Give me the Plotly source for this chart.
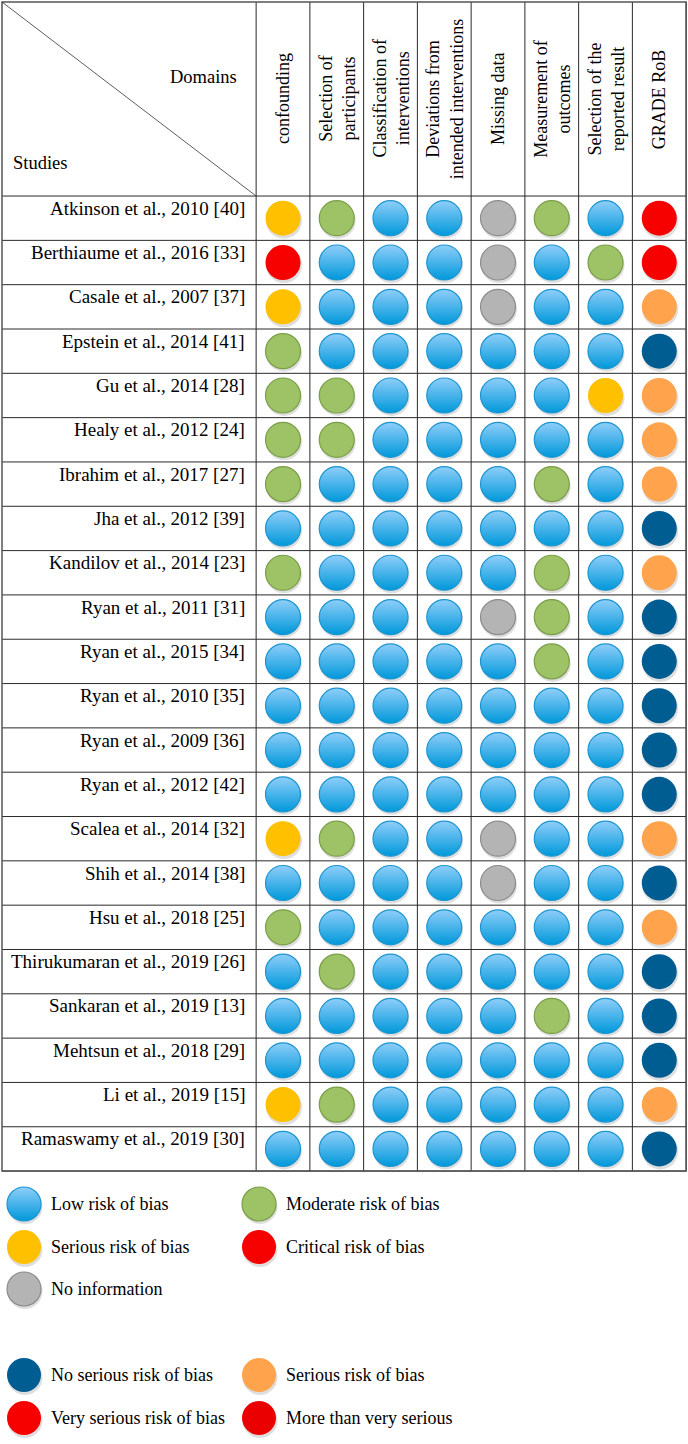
import plotly.graph_objects as go

# ---------------- data ----------------
studies = [
    "Atkinson et al., 2010 [40]", "Berthiaume et al., 2016 [33]", "Casale et al., 2007 [37]",
    "Epstein et al., 2014 [41]", "Gu et al., 2014 [28]", "Healy et al., 2012 [24]",
    "Ibrahim et al., 2017 [27]", "Jha et al., 2012 [39]", "Kandilov et al., 2014 [23]",
    "Ryan et al., 2011 [31]", "Ryan et al., 2015 [34]", "Ryan et al., 2010 [35]",
    "Ryan et al., 2009 [36]", "Ryan et al., 2012 [42]", "Scalea et al., 2014 [32]",
    "Shih et al., 2014 [38]", "Hsu et al., 2018 [25]", "Thirukumaran et al., 2019 [26]",
    "Sankaran et al., 2019 [13]", "Mehtsun et al., 2018 [29]", "Li et al., 2019 [15]",
    "Ramaswamy et al., 2019 [30]",
]

domains = [
    "confounding", "Selection of<br>participants", "Classification of<br>interventions",
    "Deviations from<br>intended interventions", "Missing data", "Measurement of<br>outcomes",
    "Selection of the<br>reported result", "GRADE RoB",
]

# L=low, M=moderate, S=serious, C=critical, N=no information
confounding = ["S", "C", "S", "M", "M", "M", "M", "L", "M", "L", "L",
               "L", "L", "L", "S", "L", "M", "L", "L", "L", "S", "L"]
selection_participants = ["M", "L", "L", "L", "M", "M", "L", "L", "L", "L", "L",
                          "L", "L", "L", "M", "L", "L", "M", "L", "L", "M", "L"]
classification = ["L", "L", "L", "L", "L", "L", "L", "L", "L", "L", "L",
                  "L", "L", "L", "L", "L", "L", "L", "L", "L", "L", "L"]
deviations = ["L", "L", "L", "L", "L", "L", "L", "L", "L", "L", "L",
              "L", "L", "L", "L", "L", "L", "L", "L", "L", "L", "L"]
missing_data = ["N", "N", "N", "L", "L", "L", "L", "L", "L", "N", "L",
                "L", "L", "L", "N", "N", "L", "L", "L", "L", "L", "L"]
measurement = ["M", "L", "L", "L", "L", "L", "M", "L", "M", "M", "M",
               "L", "L", "L", "L", "L", "L", "L", "M", "L", "L", "L"]
selection_reported = ["L", "M", "L", "L", "S", "L", "L", "L", "L", "L", "L",
                      "L", "L", "L", "L", "L", "L", "L", "L", "L", "L", "L"]
# NS=no serious, SR=serious, VS=very serious
grade_rob = ["VS", "VS", "SR", "NS", "SR", "SR", "SR", "NS", "SR", "NS", "NS",
             "NS", "NS", "NS", "SR", "NS", "SR", "NS", "NS", "NS", "SR", "NS"]

columns = [confounding, selection_participants, classification, deviations,
           missing_data, measurement, selection_reported, grade_rob]

legend_group1 = [("L", "Low risk of bias"), ("M", "Moderate risk of bias"),
                 ("S", "Serious risk of bias"), ("C", "Critical risk of bias"),
                 ("N", "No information")]
legend_group2 = [("NS", "No serious risk of bias"), ("SR", "Serious risk of bias"),
                 ("VS", "Very serious risk of bias"), ("MV", "More than very serious")]

# ---------------- styles ----------------
STYLE = {
    "L": dict(color="#8FCEF9", grad="#0098DA", line="#1B95D0", lw=1.2),
    "M": dict(color="#9DC366", grad=None, line="#7A9E47", lw=1.2),
    "S": dict(color="#FFC000", grad=None, line="#FFC000", lw=0),
    "C": dict(color="#F60000", grad=None, line="#F60000", lw=0),
    "N": dict(color="#B4B4B4", grad=None, line="#8C8C8C", lw=1.2),
    "NS": dict(color="#005D92", grad=None, line="#005D92", lw=0),
    "SR": dict(color="#FFA34C", grad=None, line="#FFA34C", lw=0),
    "VS": dict(color="#F60000", grad=None, line="#F60000", lw=0),
    "MV": dict(color="#EA0000", grad=None, line="#EA0000", lw=0),
}

FONT = "Liberation Serif, Times New Roman, serif"
W, H = 688, 1444
COL_W, ROW_H = 53.75, 44.32
X0_PX, Y0_PX = 283.0, 218.2   # pixel centre of first data cell


def px_x(p):
    return (p - X0_PX) / COL_W


def px_y(p):
    return (p - Y0_PX) / ROW_H


n_rows = len(studies)
n_cols = len(columns)
left = px_x(2)
top = px_y(2)
right = n_cols - 0.5
bottom = n_rows - 0.5

fig = go.Figure()


def add_markers(xs, ys, codes, size):
    # soft shadows
    fig.add_trace(go.Scatter(
        x=[x + 1.0 / COL_W for x in xs], y=[y + 2.5 / ROW_H for y in ys], mode="markers",
        marker=dict(size=size + 1, color="rgba(0,0,0,0.13)", line=dict(width=0)),
        hoverinfo="skip", showlegend=False))
    for code in STYLE:
        sx = [x for x, c in zip(xs, codes) if c == code]
        sy = [y for y, c in zip(ys, codes) if c == code]
        if not sx:
            continue
        st = STYLE[code]
        marker = dict(size=size, color=st["color"],
                      line=dict(color=st["line"], width=st["lw"]))
        if st["grad"]:
            marker["gradient"] = dict(type="vertical", color=st["grad"])
        fig.add_trace(go.Scatter(x=sx, y=sy, mode="markers", marker=marker,
                                 hoverinfo="skip", showlegend=False))


# table markers
xs, ys, codes = [], [], []
for ci, col in enumerate(columns):
    for ri, code in enumerate(col):
        xs.append(ci)
        ys.append(ri)
        codes.append(code)
add_markers(xs, ys, codes, 35)

# legend markers
leg_x = [px_x(24), px_x(259)]
leg_rows1 = [px_y(1204), px_y(1247), px_y(1289)]
leg_rows2 = [px_y(1375), px_y(1418)]
lx, ly, lc, lt = [], [], [], []
for i, (code, label) in enumerate(legend_group1):
    lx.append(leg_x[i % 2]); ly.append(leg_rows1[i // 2]); lc.append(code); lt.append(label)
for i, (code, label) in enumerate(legend_group2):
    lx.append(leg_x[i % 2]); ly.append(leg_rows2[i // 2]); lc.append(code); lt.append(label)
add_markers(lx, ly, lc, 34)

annotations = []
for x, y, t in zip(lx, ly, lt):
    annotations.append(dict(x=x + 25 / COL_W, y=y, text=t, xanchor="left", yanchor="middle",
                            showarrow=False, font=dict(family=FONT, size=18, color="#000")))

# study names
for ri, s in enumerate(studies):
    annotations.append(dict(x=px_x(247), y=ri - 10 / ROW_H, text=s, xanchor="right",
                            yanchor="middle", showarrow=False,
                            font=dict(family=FONT, size=19, color="#000")))

# domain headers
for ci, d in enumerate(domains):
    annotations.append(dict(x=ci, y=px_y(99), text=d, textangle=-90, xanchor="center",
                            yanchor="middle", showarrow=False,
                            font=dict(family=FONT, size=18, color="#000")))

annotations.append(dict(x=px_x(239), y=px_y(77), text="Domains", xanchor="right",
                        yanchor="middle", showarrow=False,
                        font=dict(family=FONT, size=18.5, color="#000")))
annotations.append(dict(x=px_x(11), y=px_y(163), text="Studies", xanchor="left",
                        yanchor="middle", showarrow=False,
                        font=dict(family=FONT, size=18.5, color="#000")))

# grid shapes
shapes = []
line_in = dict(color="#2a2a2a", width=1)
for k in range(n_cols + 1):
    xv = k - 0.5
    shapes.append(dict(type="line", x0=xv, x1=xv, y0=top, y1=bottom, xref="x", yref="y",
                       line=line_in, layer="below"))
for k in range(n_rows + 1):
    yv = k - 0.5
    shapes.append(dict(type="line", x0=left, x1=right, y0=yv, y1=yv, xref="x", yref="y",
                       line=line_in, layer="below"))
# outer border
shapes.append(dict(type="rect", x0=left, x1=right, y0=top, y1=bottom, xref="x", yref="y",
                   line=dict(color="#555", width=1.5), layer="below"))
# diagonal
shapes.append(dict(type="line", x0=left, y0=top, x1=-0.5, y1=-0.5, xref="x", yref="y",
                   line=dict(color="#333", width=0.8), layer="below"))

fig.update_layout(
    width=W, height=H,
    margin=dict(l=0, r=0, t=0, b=0),
    paper_bgcolor="white", plot_bgcolor="white",
    xaxis=dict(range=[px_x(0), px_x(W)], visible=False, fixedrange=True),
    yaxis=dict(range=[px_y(H), px_y(0)], visible=False, fixedrange=True),
    shapes=shapes, annotations=annotations, showlegend=False,
)

fig.write_html("out.html", config={"displayModeBar": False},
               post_script="document.body.style.margin='0px';document.body.style.overflow='hidden';")
